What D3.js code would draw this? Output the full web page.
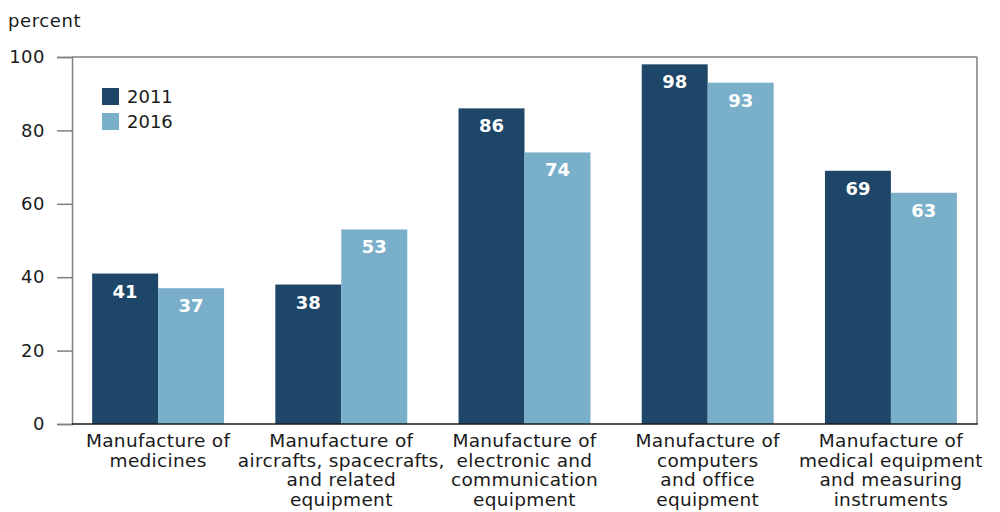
<!DOCTYPE html>
<html><head><meta charset="utf-8">
<script src="https://cdn.jsdelivr.net/npm/d3@7"></script>
<style>body{margin:0;background:#fff;} svg{display:block;font-family:"DejaVu Sans",sans-serif;}</style>
</head><body><svg id="c" width="1000" height="512"></svg>
<script>
const categories = [
  ["Manufacture of","medicines"],
  ["Manufacture of","aircrafts, spacecrafts,","and related","equipment"],
  ["Manufacture of","electronic and","communication","equipment"],
  ["Manufacture of","computers","and office","equipment"],
  ["Manufacture of","medical equipment","and measuring","instruments"]
];
const seriesNames = ["2011","2016"];
const values2011 = [41, 38, 86, 98, 69];
const values2016 = [37, 53, 74, 93, 63];
const yTicks = [0, 20, 40, 60, 80, 100];
const colors = ["#1d4669", "#7aafca"];

(function(){
const svg = d3.select("#c");
const mL = 72, mR = 977, mT = 57, mB = 424;
const FONT = "DejaVu Sans, sans-serif";
const y = d3.scaleLinear().domain([0,100]).range([mB, mT]);
const x0 = d3.scaleBand().domain(d3.range(categories.length)).range([66.5, 982.5]).paddingInner(0.28).paddingOuter(0.14);
const x1 = d3.scaleBand().domain(seriesNames).range([0, x0.bandwidth()]);
const series = [values2011, values2016];

// frame
svg.append("line").attr("x1",mL).attr("x2",mR).attr("y1",mT).attr("y2",mT).attr("stroke","#7f7f7f").attr("stroke-width",1.5);
svg.append("line").attr("x1",mR).attr("x2",mR).attr("y1",mT).attr("y2",mB).attr("stroke","#7f7f7f").attr("stroke-width",1.5);

// y axis
const yAxis = d3.axisLeft(y).tickValues(yTicks).tickSize(15).tickPadding(12);
const ya = svg.append("g").attr("transform",`translate(${mL},0)`).call(yAxis);
ya.select(".domain").attr("stroke","#7f7f7f").attr("stroke-width",1.5);
ya.selectAll(".tick line").attr("stroke","#7f7f7f").attr("stroke-width",1.5);
ya.selectAll(".tick text").attr("font-size",18).attr("fill","#1a1a1a").attr("font-family",FONT).attr("letter-spacing",0.5);

svg.append("text").attr("x",8).attr("y",27).text("percent").attr("font-size",18).attr("letter-spacing",0.6).attr("fill","#1a1a1a");

// bars
const groups = svg.append("g").selectAll("g").data(categories).join("g")
  .attr("transform",(d,i)=>`translate(${x0(i)},0)`);
seriesNames.forEach((s,si)=>{
  groups.append("rect")
    .attr("x",x1(s)).attr("width",x1.bandwidth())
    .attr("y",(d,i)=>y(series[si][i])).attr("height",(d,i)=>mB-y(series[si][i]))
    .attr("fill",colors[si]);
  groups.append("text")
    .attr("x",x1(s)+x1.bandwidth()/2).attr("y",(d,i)=>y(series[si][i])+24)
    .attr("text-anchor","middle").attr("fill","#fff").attr("font-weight","bold").attr("font-size",18)
    .text((d,i)=>series[si][i]);
});

// bottom axis line
svg.append("line").attr("x1",mL).attr("x2",mR+0.75).attr("y1",mB).attr("y2",mB).attr("stroke","#1a1a1a").attr("stroke-width",1.5);

// category labels
groups.append("text").attr("text-anchor","middle").attr("font-size",18.5).attr("letter-spacing",0.3).attr("fill","#1a1a1a")
  .attr("x",x0.bandwidth()/2)
  .selectAll("tspan").data(d=>d).join("tspan")
  .attr("x",x0.bandwidth()/2).attr("y",(d,i)=>447+i*19.7).text(d=>d);

// legend
const lg = svg.append("g").attr("transform","translate(102,88)");
seriesNames.forEach((s,i)=>{
  lg.append("rect").attr("x",0).attr("y",i*25).attr("width",17).attr("height",17).attr("fill",colors[i]);
  lg.append("text").attr("x",25).attr("y",i*25+15).attr("font-size",18).attr("fill","#1a1a1a").text(s);
});
})();
</script></body></html>
